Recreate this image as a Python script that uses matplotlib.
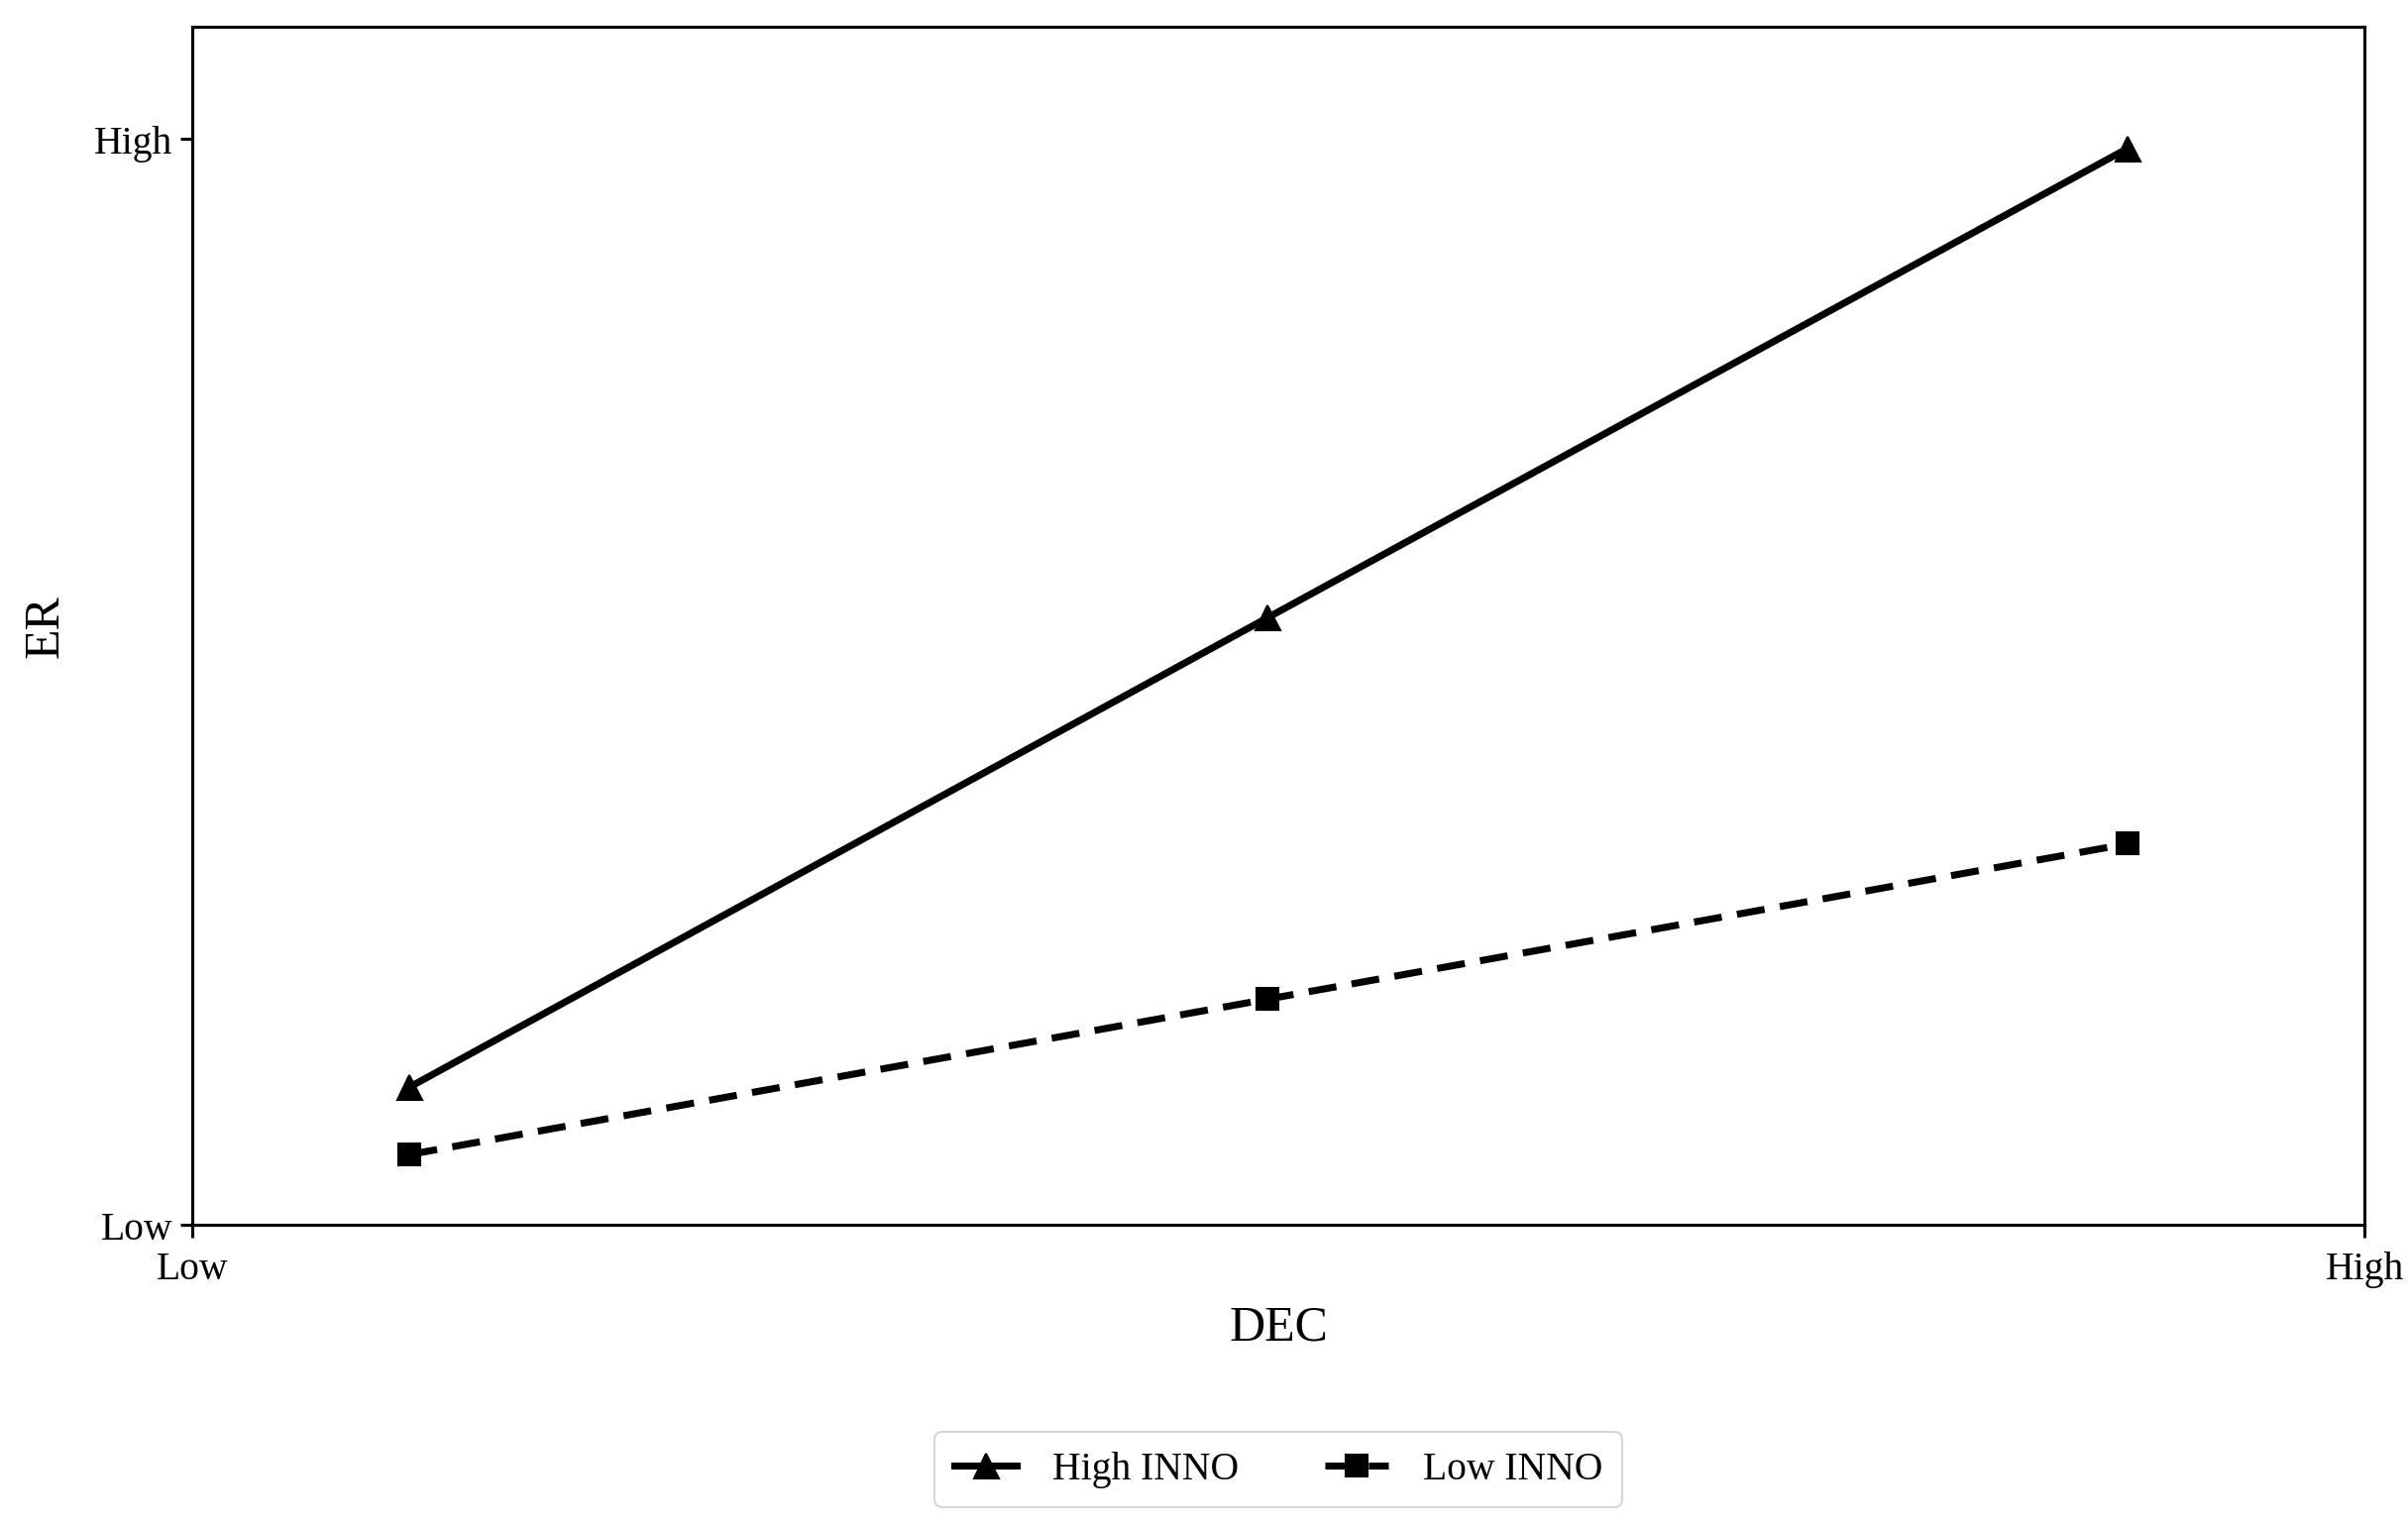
import matplotlib.pyplot as plt

plt.rcParams["font.family"] = ["Liberation Serif", "DejaVu Serif"]

# simple slopes: DEC level on x, ER on y (0 = low, 1 = high)
dec_levels = [0.1, 0.495, 0.891]
high_inno = [0.127, 0.559, 0.991]
low_inno = [0.065, 0.208, 0.351]
tick_labels = ["Low", "High"]
series_labels = ["High INNO", "Low INNO"]


def main() -> None:
    fig = plt.figure(figsize=(16.2, 10.273), dpi=150)
    ax = fig.add_axes([0.0798, 0.197, 0.9022, 0.785])

    ax.plot(dec_levels, high_inno, color="black", linestyle="-",
            linewidth=3.4, marker="^", markersize=12, label=series_labels[0])
    ax.plot(dec_levels, low_inno, color="black", linestyle="--",
            linewidth=3.4, marker="s", markersize=11, label=series_labels[1],
            dashes=(4, 2.2))

    ax.set_xlim(0, 1)
    ax.set_ylim(0, 1.103)
    ax.set_xticks([0, 1], tick_labels)
    ax.set_yticks([0, 1], tick_labels)
    ax.tick_params(labelsize=19, length=6, width=1.5, direction="out")
    ax.tick_params(axis="x", pad=6.5)
    for spine in ax.spines.values():
        spine.set_linewidth(1.5)

    ax.set_xlabel("DEC", fontsize=24, labelpad=8)
    ax.set_ylabel("ER", fontsize=24, labelpad=12)

    fig.legend(loc="center", bbox_to_anchor=(0.531, 0.037), ncol=2,
               fontsize=19, handlelength=1.6, handletextpad=0.9,
               columnspacing=2.2, frameon=True, borderpad=0.5)

    fig.savefig("out.png", dpi=150)
    plt.close(fig)


if __name__ == "__main__":
    main()
